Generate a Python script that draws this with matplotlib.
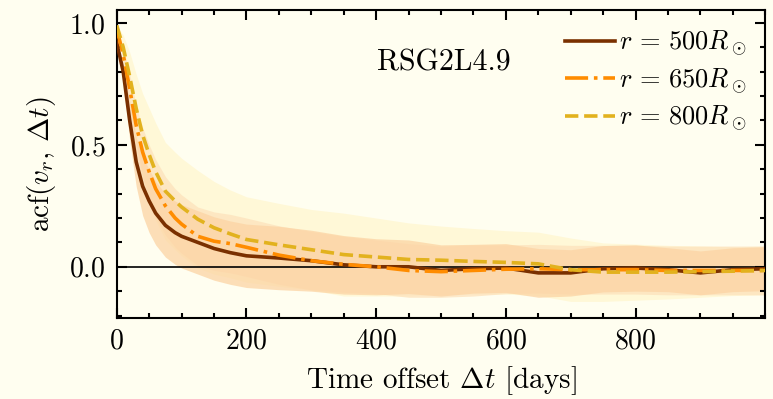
import matplotlib
matplotlib.use("Agg")
import matplotlib.pyplot as plt
import numpy as np

plt.rcParams['font.family'] = 'serif'
plt.rcParams['font.serif'] = ['cmr10']
plt.rcParams['mathtext.fontset'] = 'cm'
plt.rcParams['axes.formatter.use_mathtext'] = True

# time offsets in days
t = [0, 10, 20, 30, 40, 50, 60, 75, 90, 100, 125, 150, 175, 200, 250, 300,
     350, 400, 450, 500, 550, 600, 650, 700, 750, 800, 850, 900, 950, 1000]

acf_500 = [0.92, 0.80, 0.60, 0.43, 0.33, 0.27, 0.22, 0.17, 0.14, 0.125, 0.10, 0.075,
           0.058, 0.045, 0.036, 0.025, 0.008, 0.0, 0.0, -0.015, -0.008, -0.005,
           -0.025, -0.025, -0.008, -0.005, -0.012, -0.025, -0.012, -0.008]
acf_650 = [0.975, 0.87, 0.73, 0.58, 0.47, 0.39, 0.32, 0.25, 0.20, 0.175, 0.125, 0.105,
           0.095, 0.08, 0.048, 0.025, 0.01, 0.0, -0.015, -0.02, -0.015, -0.01,
           -0.008, -0.012, -0.012, -0.012, -0.015, -0.015, -0.015, -0.015]
acf_800 = [0.99, 0.90, 0.78, 0.65, 0.54, 0.46, 0.39, 0.31, 0.27, 0.245, 0.195, 0.16,
           0.135, 0.112, 0.09, 0.07, 0.05, 0.04, 0.03, 0.027, 0.022, 0.018,
           0.012, -0.012, -0.022, -0.022, -0.022, -0.02, -0.018, -0.015]

# spread (half width of shaded band)
sig_500 = [0.0, 0.04, 0.08, 0.10, 0.12, 0.13, 0.13, 0.13, 0.13, 0.13, 0.13, 0.13,
           0.13, 0.13, 0.13, 0.125, 0.12, 0.115, 0.11, 0.105, 0.10, 0.10,
           0.10, 0.095, 0.095, 0.095, 0.09, 0.09, 0.09, 0.09]
sig_650 = [0.0, 0.03, 0.06, 0.08, 0.10, 0.11, 0.12, 0.12, 0.12, 0.12, 0.12, 0.12,
           0.12, 0.12, 0.12, 0.12, 0.115, 0.11, 0.11, 0.105, 0.105, 0.10,
           0.10, 0.10, 0.10, 0.10, 0.10, 0.10, 0.10, 0.10]
sig_800 = [0.0, 0.05, 0.10, 0.14, 0.17, 0.19, 0.20, 0.20, 0.20, 0.20, 0.20, 0.19,
           0.18, 0.175, 0.17, 0.165, 0.17, 0.16, 0.15, 0.14, 0.135, 0.13,
           0.13, 0.13, 0.12, 0.115, 0.11, 0.105, 0.10, 0.10]

labels = [r'$r\, =\, 500 R_\odot$', r'$r\, =\, 650 R_\odot$', r'$r\, =\, 800 R_\odot$']
line_colors = ['#7a3000', '#ff8c00', '#e2b21e']
band_colors = ['#fcd4a4', '#fde2bc', '#fff8d6']
band_alpha = [0.75, 0.75, 0.95]
styles = ['-', '-.', '--']

bg = '#fffef0'
fig = plt.figure(figsize=(7.73, 3.99), dpi=100, facecolor=bg)
ax = fig.add_axes([0.151, 0.203, 0.839, 0.772], facecolor=bg)

series = [acf_500, acf_650, acf_800]
sigmas = [sig_500, sig_650, sig_800]
tt = np.array(t)

# bands, widest first
for i in [2, 1, 0]:
    m = np.array(series[i])
    s = np.array(sigmas[i])
    ax.fill_between(tt, m - s, m + s, color=band_colors[i], alpha=band_alpha[i], lw=0)

ax.axhline(0, color='black', lw=1.2, zorder=3)

for i in range(3):
    ax.plot(tt, series[i], ls=styles[i], color=line_colors[i], lw=2.6,
            label=labels[i], zorder=4)

ax.set_xlim(0, 1000)
ax.set_ylim(-0.21, 1.053)
ax.set_xticks([0, 200, 400, 600, 800])
ax.set_yticks([0.0, 0.5, 1.0])
ax.xaxis.set_minor_locator(matplotlib.ticker.MultipleLocator(50))
ax.yaxis.set_minor_locator(matplotlib.ticker.MultipleLocator(0.1))
ax.tick_params(which='both', direction='in', top=True, right=True, width=1.5,
               labelsize=20)
ax.tick_params(axis='y', which='major', pad=8)
ax.tick_params(axis='x', which='major', pad=7)
ax.tick_params(which='major', length=7)
ax.tick_params(which='minor', length=3.5)
for sp in ax.spines.values():
    sp.set_linewidth(1.5)

ax.set_xlabel(r'Time offset $\Delta t$ [days]', fontsize=21, labelpad=7)
ax.set_ylabel(r'$\mathrm{acf}(v_r,\,\Delta t)$', fontsize=21, labelpad=8)

ax.text(0.504, 0.83, 'RSG2L4.9', transform=ax.transAxes, fontsize=21.5,
        ha='center', va='center')

leg = ax.legend(loc='upper right', frameon=False, fontsize=19, handlelength=1.9,
                labelspacing=0.3, handletextpad=0.15, borderaxespad=0.3)

fig.savefig('out.png', dpi=100, facecolor=bg)
